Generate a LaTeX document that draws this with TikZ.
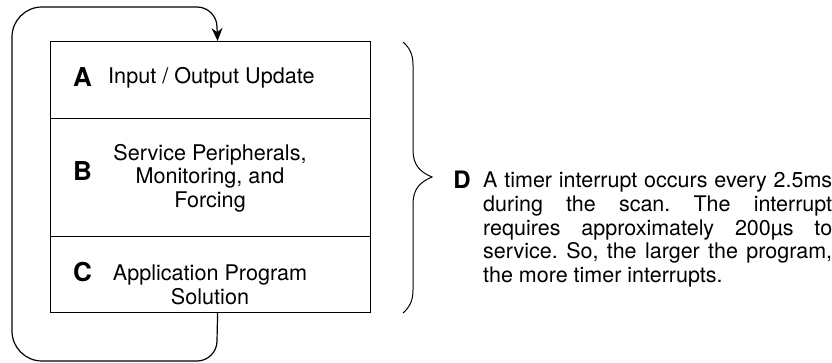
\documentclass[tikz,border=0pt]{standalone}
\usepackage{fontspec}
\setmainfont{TeX Gyre Heros}
\usetikzlibrary{arrows.meta}
\begin{document}
\frenchspacing
\begin{tikzpicture}[x=1pt,y=-1pt,
  section/.style={draw, line width=1.2pt, minimum width=320pt, inner sep=0pt, anchor=north west},
  letter/.style={font=\fontsize{26}{28}\selectfont\bfseries, inner sep=0pt},
  body/.style={font=\fontsize{21.6}{23.7}\selectfont, inner sep=0pt, align=center},
  loop/.style={line width=1.2pt},
  brace/.style={line width=1pt}]
\useasboundingbox (0,0) rectangle (832,362);
% sections
\node[section, minimum height=77pt] (secA) at (50,41) {};
\node[section, minimum height=118pt] (secB) at (50,118) {};
\node[section, minimum height=76pt] (secC) at (50,236) {};
% labels
\node[letter] (lA) at (82.5,77) {A};
\node[body, anchor=west] (tA) at (108,78) {Input / Output Update};
\node[letter] (lB) at (82.5,171) {B};
\node[body] (tB) at (210,178) {Service Peripherals,\\Monitoring, and\\Forcing};
\node[letter] (lC) at (82.5,272) {C};
\node[body] (tC) at (210,285) {Application Program\\Solution};
% loop
\coordinate (out) at ([xshift=7pt]secC.south);
\coordinate (in) at ([xshift=7pt]secA.north);
\draw[loop, -{Stealth[length=13pt,width=11pt]}] (out) -- (217,341)
  .. controls (217,352) and (208,361) .. (197,361) -- (42,361)
  .. controls (25.4,361) and (12,347.6) .. (12,331) -- (12,37)
  .. controls (12,20.4) and (25.4,7) .. (42,7) -- (197,7)
  .. controls (208,7) and (217,16) .. (217,27) -- (in);
% brace
\draw[brace] (403,42) .. controls (410,48) and (413,55) .. (413,65) -- (413,150)
  .. controls (413,165) and (420,172) .. (432,177)
  .. controls (420,182) and (413,189) .. (413,204) -- (413,290)
  .. controls (413,300) and (410,307) .. (403,313);
% D
\node[letter, font=\fontsize{24}{26}\selectfont\bfseries] (lD) at (462,180) {D};
\node[font=\fontsize{21.5}{23.7}\selectfont, inner sep=0pt, anchor=north west, text width=349pt, align=justify] (tD) at (483,172)
  {A timer interrupt occurs every 2.5ms\linebreak during the scan. The interrupt\linebreak requires approximately 200µs to\linebreak service. So, the larger the program,\linebreak the more timer interrupts.};
\end{tikzpicture}
\end{document}
